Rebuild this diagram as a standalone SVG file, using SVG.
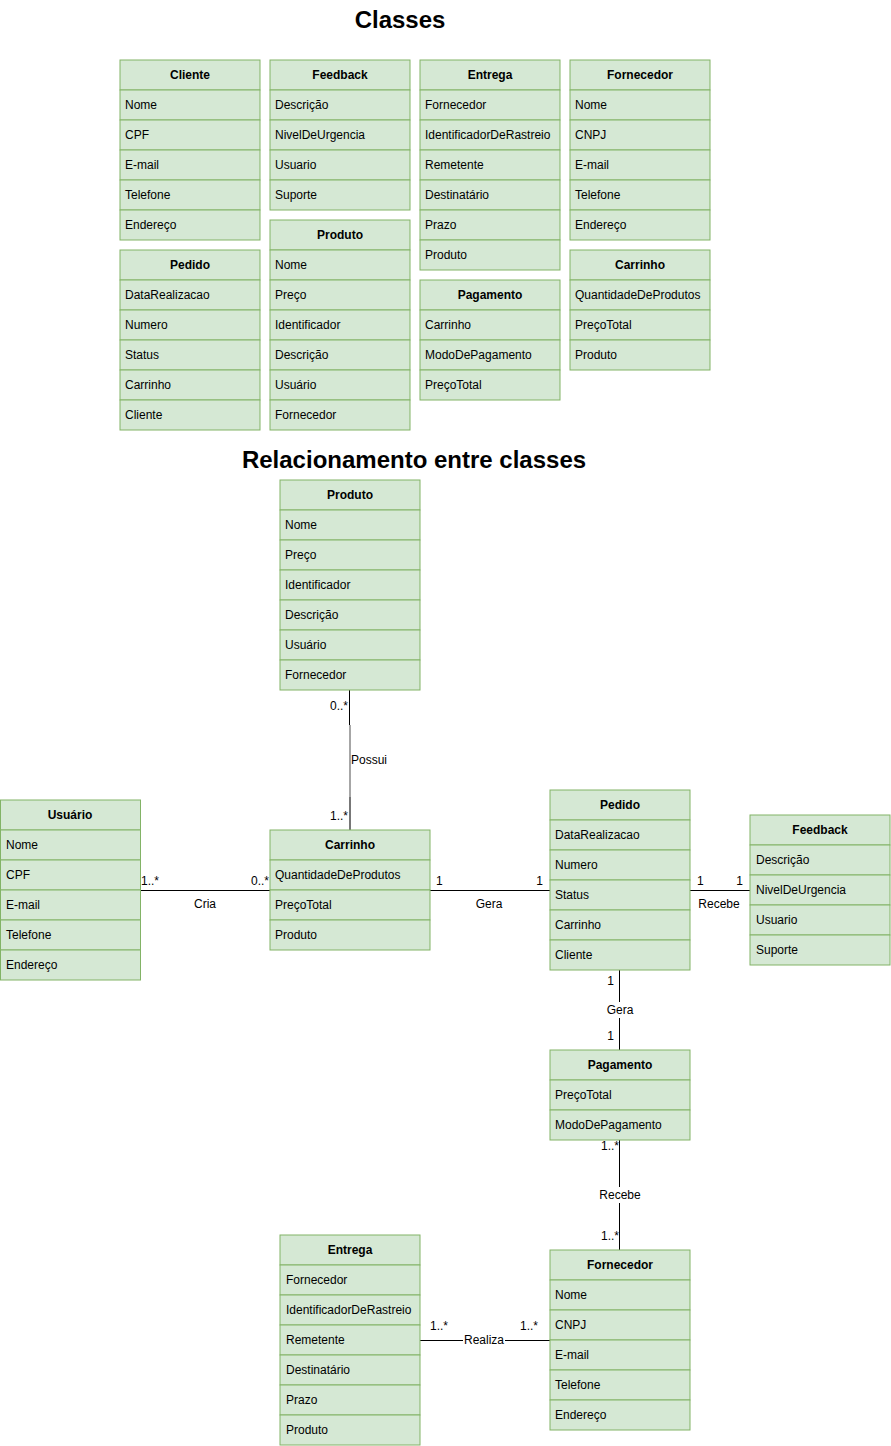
<svg xmlns="http://www.w3.org/2000/svg" width="891" height="1446" viewBox="0 0 891 1446">
<style>
text{font-family:"Liberation Sans",Arial,sans-serif;font-size:12px;fill:#000}
.h{font-weight:bold;text-anchor:middle}
.t{font-weight:bold;font-size:24px;text-anchor:middle}
rect{fill:#d5e8d4;stroke:#82b366;stroke-width:1}
.c line{stroke:#000;stroke-width:1}
.m{text-anchor:middle}
.e{text-anchor:end}
.bg{fill:#fff;stroke:none}
</style>
<rect width="891" height="1446" style="fill:#fff;stroke:none"/>
<text class="t" x="400" y="28">Classes</text>
<text class="t" x="414" y="468">Relacionamento entre classes</text>

<g id="cliente"><rect x="120" y="60" width="140" height="30"/><text class="h" x="190" y="79">Cliente</text>
<rect x="120" y="90" width="140" height="30"/><text x="125" y="109">Nome</text>
<rect x="120" y="120" width="140" height="30"/><text x="125" y="139">CPF</text>
<rect x="120" y="150" width="140" height="30"/><text x="125" y="169">E-mail</text>
<rect x="120" y="180" width="140" height="30"/><text x="125" y="199">Telefone</text>
<rect x="120" y="210" width="140" height="30"/><text x="125" y="229">Endereço</text></g>

<g id="pedido1"><rect x="120" y="250" width="140" height="30"/><text class="h" x="190" y="269">Pedido</text>
<rect x="120" y="280" width="140" height="30"/><text x="125" y="299">DataRealizacao</text>
<rect x="120" y="310" width="140" height="30"/><text x="125" y="329">Numero</text>
<rect x="120" y="340" width="140" height="30"/><text x="125" y="359">Status</text>
<rect x="120" y="370" width="140" height="30"/><text x="125" y="389">Carrinho</text>
<rect x="120" y="400" width="140" height="30"/><text x="125" y="419">Cliente</text></g>

<g id="feedback1"><rect x="270" y="60" width="140" height="30"/><text class="h" x="340" y="79">Feedback</text>
<rect x="270" y="90" width="140" height="30"/><text x="275" y="109">Descrição</text>
<rect x="270" y="120" width="140" height="30"/><text x="275" y="139">NivelDeUrgencia</text>
<rect x="270" y="150" width="140" height="30"/><text x="275" y="169">Usuario</text>
<rect x="270" y="180" width="140" height="30"/><text x="275" y="199">Suporte</text></g>

<g id="produto1"><rect x="270" y="220" width="140" height="30"/><text class="h" x="340" y="239">Produto</text>
<rect x="270" y="250" width="140" height="30"/><text x="275" y="269">Nome</text>
<rect x="270" y="280" width="140" height="30"/><text x="275" y="299">Preço</text>
<rect x="270" y="310" width="140" height="30"/><text x="275" y="329">Identificador</text>
<rect x="270" y="340" width="140" height="30"/><text x="275" y="359">Descrição</text>
<rect x="270" y="370" width="140" height="30"/><text x="275" y="389">Usuário</text>
<rect x="270" y="400" width="140" height="30"/><text x="275" y="419">Fornecedor</text></g>

<g id="entrega1"><rect x="420" y="60" width="140" height="30"/><text class="h" x="490" y="79">Entrega</text>
<rect x="420" y="90" width="140" height="30"/><text x="425" y="109">Fornecedor</text>
<rect x="420" y="120" width="140" height="30"/><text x="425" y="139">IdentificadorDeRastreio</text>
<rect x="420" y="150" width="140" height="30"/><text x="425" y="169">Remetente</text>
<rect x="420" y="180" width="140" height="30"/><text x="425" y="199">Destinatário</text>
<rect x="420" y="210" width="140" height="30"/><text x="425" y="229">Prazo</text>
<rect x="420" y="240" width="140" height="30"/><text x="425" y="259">Produto</text></g>

<g id="pagamento1"><rect x="420" y="280" width="140" height="30"/><text class="h" x="490" y="299">Pagamento</text>
<rect x="420" y="310" width="140" height="30"/><text x="425" y="329">Carrinho</text>
<rect x="420" y="340" width="140" height="30"/><text x="425" y="359">ModoDePagamento</text>
<rect x="420" y="370" width="140" height="30"/><text x="425" y="389">PreçoTotal</text></g>

<g id="fornecedor1"><rect x="570" y="60" width="140" height="30"/><text class="h" x="640" y="79">Fornecedor</text>
<rect x="570" y="90" width="140" height="30"/><text x="575" y="109">Nome</text>
<rect x="570" y="120" width="140" height="30"/><text x="575" y="139">CNPJ</text>
<rect x="570" y="150" width="140" height="30"/><text x="575" y="169">E-mail</text>
<rect x="570" y="180" width="140" height="30"/><text x="575" y="199">Telefone</text>
<rect x="570" y="210" width="140" height="30"/><text x="575" y="229">Endereço</text></g>

<g id="carrinho1"><rect x="570" y="250" width="140" height="30"/><text class="h" x="640" y="269">Carrinho</text>
<rect x="570" y="280" width="140" height="30"/><text x="575" y="299">QuantidadeDeProdutos</text>
<rect x="570" y="310" width="140" height="30"/><text x="575" y="329">PreçoTotal</text>
<rect x="570" y="340" width="140" height="30"/><text x="575" y="359">Produto</text></g>

<g class="c" id="connectors">
<line x1="349.5" y1="690" x2="349.5" y2="725"/>
<line x1="350" y1="725" x2="350" y2="830" style="stroke:#888;stroke-width:1.5"/>
<line x1="350" y1="797" x2="350" y2="830" style="stroke:#777;stroke-width:2"/>
<text class="e" x="348" y="710">0..*</text>
<text x="351" y="764">Possui</text>
<text class="e" x="348" y="820">1..*</text>
<line x1="140" y1="890.5" x2="270" y2="890.5"/>
<text x="141" y="885">1..*</text>
<text class="e" x="269" y="885">0..*</text>
<text class="m" x="205" y="908">Cria</text>
<line x1="430" y1="890.5" x2="550" y2="890.5"/>
<text x="436" y="885">1</text>
<text class="e" x="543" y="885">1</text>
<text class="m" x="489" y="908">Gera</text>
<line x1="690" y1="890.5" x2="750" y2="890.5"/>
<text x="697" y="885">1</text>
<text class="e" x="743" y="885">1</text>
<text class="m" x="719" y="908">Recebe</text>
<line x1="619.5" y1="970" x2="619.5" y2="1050"/>
<text class="e" x="614" y="985">1</text>
<rect class="bg" x="604" y="1002" width="30" height="16"/>
<text class="m" x="620" y="1014">Gera</text>
<text class="e" x="614" y="1040">1</text>
<line x1="619.5" y1="1140" x2="619.5" y2="1250"/>
<text class="e" x="619" y="1150">1..*</text>
<rect class="bg" x="598" y="1187" width="44" height="16"/>
<text class="m" x="620" y="1199">Recebe</text>
<text class="e" x="619" y="1240">1..*</text>
<line x1="420" y1="1340.5" x2="550" y2="1340.5"/>
<rect class="bg" x="463" y="1333" width="42" height="14"/>
<text class="m" x="484" y="1344">Realiza</text>
<text x="430" y="1330">1..*</text>
<text x="520" y="1330">1..*</text>
</g>

<g id="produto"><rect x="280" y="480" width="140" height="30"/><text class="h" x="350" y="499">Produto</text>
<rect x="280" y="510" width="140" height="30"/><text x="285" y="529">Nome</text>
<rect x="280" y="540" width="140" height="30"/><text x="285" y="559">Preço</text>
<rect x="280" y="570" width="140" height="30"/><text x="285" y="589">Identificador</text>
<rect x="280" y="600" width="140" height="30"/><text x="285" y="619">Descrição</text>
<rect x="280" y="630" width="140" height="30"/><text x="285" y="649">Usuário</text>
<rect x="280" y="660" width="140" height="30"/><text x="285" y="679">Fornecedor</text></g>

<g id="usuario"><rect x="0.5" y="800" width="140" height="30"/><text class="h" x="70" y="819">Usuário</text>
<rect x="0.5" y="830" width="140" height="30"/><text x="6" y="849">Nome</text>
<rect x="0.5" y="860" width="140" height="30"/><text x="6" y="879">CPF</text>
<rect x="0.5" y="890" width="140" height="30"/><text x="6" y="909">E-mail</text>
<rect x="0.5" y="920" width="140" height="30"/><text x="6" y="939">Telefone</text>
<rect x="0.5" y="950" width="140" height="30"/><text x="6" y="969">Endereço</text></g>

<g id="carrinho"><rect x="270" y="830" width="160" height="30"/><text class="h" x="350" y="849">Carrinho</text>
<rect x="270" y="860" width="160" height="30"/><text x="275" y="879">QuantidadeDeProdutos</text>
<rect x="270" y="890" width="160" height="30"/><text x="275" y="909">PreçoTotal</text>
<rect x="270" y="920" width="160" height="30"/><text x="275" y="939">Produto</text></g>

<g id="pedido"><rect x="550" y="790" width="140" height="30"/><text class="h" x="620" y="809">Pedido</text>
<rect x="550" y="820" width="140" height="30"/><text x="555" y="839">DataRealizacao</text>
<rect x="550" y="850" width="140" height="30"/><text x="555" y="869">Numero</text>
<rect x="550" y="880" width="140" height="30"/><text x="555" y="899">Status</text>
<rect x="550" y="910" width="140" height="30"/><text x="555" y="929">Carrinho</text>
<rect x="550" y="940" width="140" height="30"/><text x="555" y="959">Cliente</text></g>

<g id="feedback"><rect x="750" y="815" width="140" height="30"/><text class="h" x="820" y="834">Feedback</text>
<rect x="750" y="845" width="140" height="30"/><text x="756" y="864">Descrição</text>
<rect x="750" y="875" width="140" height="30"/><text x="756" y="894">NivelDeUrgencia</text>
<rect x="750" y="905" width="140" height="30"/><text x="756" y="924">Usuario</text>
<rect x="750" y="935" width="140" height="30"/><text x="756" y="954">Suporte</text></g>

<g id="pagamento"><rect x="550" y="1050" width="140" height="30"/><text class="h" x="620" y="1069">Pagamento</text>
<rect x="550" y="1080" width="140" height="30"/><text x="555" y="1099">PreçoTotal</text>
<rect x="550" y="1110" width="140" height="30"/><text x="555" y="1129">ModoDePagamento</text></g>

<g id="fornecedor"><rect x="550" y="1250" width="140" height="30"/><text class="h" x="620" y="1269">Fornecedor</text>
<rect x="550" y="1280" width="140" height="30"/><text x="555" y="1299">Nome</text>
<rect x="550" y="1310" width="140" height="30"/><text x="555" y="1329">CNPJ</text>
<rect x="550" y="1340" width="140" height="30"/><text x="555" y="1359">E-mail</text>
<rect x="550" y="1370" width="140" height="30"/><text x="555" y="1389">Telefone</text>
<rect x="550" y="1400" width="140" height="30"/><text x="555" y="1419">Endereço</text></g>

<g id="entrega"><rect x="280" y="1235" width="140" height="30"/><text class="h" x="350" y="1254">Entrega</text>
<rect x="280" y="1265" width="140" height="30"/><text x="286" y="1284">Fornecedor</text>
<rect x="280" y="1295" width="140" height="30"/><text x="286" y="1314">IdentificadorDeRastreio</text>
<rect x="280" y="1325" width="140" height="30"/><text x="286" y="1344">Remetente</text>
<rect x="280" y="1355" width="140" height="30"/><text x="286" y="1374">Destinatário</text>
<rect x="280" y="1385" width="140" height="30"/><text x="286" y="1404">Prazo</text>
<rect x="280" y="1415" width="140" height="30"/><text x="286" y="1434">Produto</text></g>
</svg>
